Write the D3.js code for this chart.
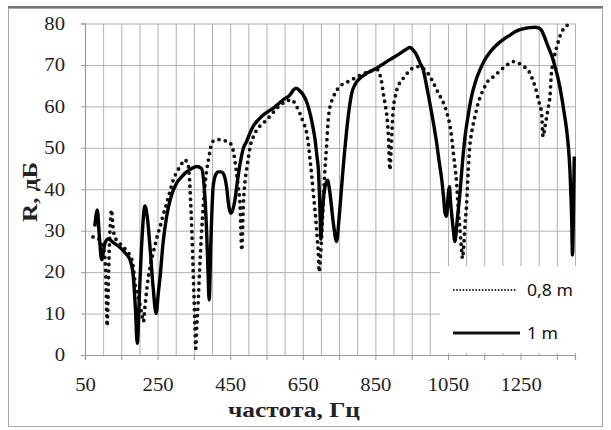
<!DOCTYPE html>
<html>
<head>
<meta charset="utf-8">
<script src="https://cdn.jsdelivr.net/npm/d3@7"></script>
<style>
  body { margin: 0; background: #fff; }
  svg { display: block; }
</style>
</head>
<body>
<div id="chart"></div>
<script>
// 1 m series (solid)
const freq1m = [77, 84, 90, 96, 105, 114, 130, 146, 162, 174, 183, 189, 194, 200, 207, 215, 222, 230, 238, 246,
  252, 257, 265, 275, 288, 302, 316, 330, 344, 358, 371, 378, 385, 389, 392, 397, 403, 410, 417, 424,
  431, 440, 446, 451, 457, 463, 470, 477, 486, 495, 504, 514, 528, 541, 555, 569, 583, 596, 615, 625,
  631, 641, 651, 661, 670, 678, 684, 689, 693, 697, 700, 703, 710, 718, 725, 734, 743, 750, 757, 764,
  771, 778, 785, 794, 803, 815, 826, 840, 853, 867, 881, 900, 918, 932, 945, 955, 964, 973, 982, 991,
  1000, 1010, 1019, 1026, 1033, 1038, 1042, 1046, 1051, 1054, 1057, 1060, 1065, 1069, 1076, 1083, 1090, 1097, 1106, 1115,
  1126, 1138, 1150, 1165, 1179, 1193, 1207, 1221, 1235, 1248, 1262, 1276, 1290, 1300, 1308, 1317, 1326, 1336, 1345, 1354,
  1363, 1370, 1377, 1382, 1386, 1389, 1391, 1393, 1396, 1398];
const r1m = [31, 35, 28, 23, 27, 28, 27, 26, 24.5, 23, 19, 11, 2.8, 15, 28, 36, 33, 25, 16, 10,
  15, 19, 27, 33.5, 38.5, 41.4, 43, 44.2, 45, 45.5, 45, 41, 30, 20, 13.3, 28, 40.6, 43.5, 44.2, 44.2,
  43.8, 40.6, 36, 34.2, 35, 37.4, 42, 46, 49.8, 51.5, 53.5, 55.3, 56.8, 57.9, 58.8, 59.6, 60.6, 61.6, 62.8, 64,
  64.4, 63.8, 62.8, 61, 58.3, 55, 51.9, 48, 44.7, 36, 28, 33, 40, 42.2, 39, 32, 27.4, 33, 40.6, 48,
  54.3, 59.5, 63.2, 65.3, 66.4, 67.3, 68, 68.6, 69.2, 70, 70.8, 71.8, 72.8, 73.6, 74.2, 73.5, 72.3, 70.5, 68.8, 65,
  60.8, 56, 51.1, 46.5, 42.2, 38, 34.2, 33.5, 39, 40.6, 37, 34.2, 30, 27.4, 33, 39, 46.5, 52.7, 58, 62.4,
  66, 68.8, 71, 73, 74.4, 75.5, 76.4, 77.2, 78, 78.5, 78.8, 79, 79.1, 78.9, 78.3, 76.5, 74.4, 72.2, 69.6, 66.5,
  62.4, 58.5, 54.3, 50, 44.7, 38, 32.6, 24.1, 36, 47.9];

// 0,8 m series (dotted)
const freq08m = [72, 82, 92, 100, 106, 109, 111, 114, 117, 120, 123, 127, 132, 140, 155, 168, 179, 184, 188, 195,
  201, 207, 211, 215, 220, 229, 236, 243, 250, 257, 266, 275, 284, 293, 302, 312, 319, 325, 331, 335,
  338, 341, 344, 347, 350, 353, 355, 358, 362, 366, 371, 376, 381, 386, 390, 395, 399, 406, 413, 425,
  436, 445, 454, 460, 466, 472, 477, 482, 486, 491, 495, 500, 505, 514, 523, 536, 550, 564, 578, 592,
  606, 619, 631, 642, 652, 661, 666, 670, 675, 679, 683, 686, 690, 693, 695, 699, 702, 706, 711, 716,
  720, 725, 732, 739, 746, 752, 780, 810, 840, 855, 863, 868, 872, 877, 881, 886, 890, 893, 895, 899,
  904, 909, 918, 927, 936, 945, 956, 968, 980, 991, 1005, 1019, 1031, 1042, 1050, 1056, 1061, 1065, 1070, 1074,
  1078, 1083, 1087, 1090, 1094, 1097, 1101, 1106, 1110, 1115, 1120, 1127, 1133, 1140, 1147, 1154, 1161, 1170, 1179, 1193,
  1207, 1218, 1230, 1241, 1253, 1265, 1276, 1283, 1290, 1299, 1308, 1312, 1317, 1322, 1327, 1331, 1335, 1340, 1345, 1352,
  1358, 1365, 1372, 1383, 1395];
const r08m = [28.5, 28.3, 27.5, 26, 22, 14, 7, 16, 26, 32, 35, 31, 28.5, 27.5, 26.1, 24.8, 23, 20.5, 17.3, 14.5,
  12.5, 9.5, 8, 11.5, 15.7, 21.3, 24, 26.5, 29, 31, 34, 36.6, 39.5, 42.2, 44, 45.5, 46.5, 47.1, 46.5, 45.5,
  42.5, 37, 31, 23, 15, 7, 1.6, 7, 13.3, 21, 29.4, 36, 41.4, 45, 47.1, 49.5, 51.1, 51.8, 52, 52,
  51.7, 51.3, 50.7, 48.5, 45, 40.6, 36.5, 25.3, 35.8, 42, 44.7, 47.5, 50.3, 52.7, 54.3, 55.6, 56.7, 58.1, 59.5, 60.6,
  61.3, 61.6, 60.3, 58.3, 56, 53.5, 50.5, 47.1, 43, 39, 35.5, 32.6, 28, 24.5, 20.1, 24, 28.6, 36, 44.7, 51,
  56.7, 59.9, 61.8, 63.2, 64.2, 64.8, 66.2, 67.6, 68.6, 68.9, 67.5, 65.5, 63, 60.5, 58.3, 52.7, 44.7, 49, 52.7, 59.1,
  62, 64, 65.8, 66.8, 67.8, 68.8, 69.3, 69.6, 69.2, 68.4, 66.5, 64, 62, 59.9, 57.5, 55.1, 52, 48.7, 45, 41.4,
  35.8, 30.2, 26, 23.3, 27, 31.5, 35.8, 44.7, 50.3, 53.5, 55.9, 58.5, 60.8, 62.5, 64, 65.2, 66.2, 66.8, 67.4, 68.6,
  69.6, 70.3, 70.8, 70.6, 70, 69.2, 68, 66.5, 64.8, 61.6, 58.3, 52.7, 55, 57.5, 60, 62.4, 68, 70.5, 72.8, 75,
  76.8, 78.2, 79.2, 79.7, 79.9];

const xTicks = d3.range(50, 1400, 100);
const xLabels = [50, 250, 450, 650, 850, 1050, 1250];
const yTicks = d3.range(0, 81, 10);
const legendLabels = ["0,8 m", "1 m"];

const width = 611, height = 430;
const plot = { left: 85, right: 575, top: 23.5, bottom: 355 };

const svg = d3.select("#chart").append("svg")
  .attr("width", width)
  .attr("height", height);

// stretch text horizontally around its anchor
function stretch(sel, k) {
  sel.each(function () {
    const t = d3.select(this);
    const x = +t.attr("x") || 0;
    t.attr("transform", `translate(${x},0) scale(${k},1) translate(${-x},0)`);
  });
}

// frame
svg.append("rect")
  .attr("x", 8.5).attr("y", 8.5)
  .attr("width", 594).attr("height", 418)
  .attr("fill", "#fff")
  .attr("stroke", "#a8a8a8");
svg.append("line")
  .attr("x1", 8).attr("x2", 603)
  .attr("y1", 7).attr("y2", 7)
  .attr("stroke", "#777")
  .attr("stroke-width", 2);

const x = d3.scaleLinear().domain([50, 1400]).range([plot.left, plot.right]);
const y = d3.scaleLinear().domain([0, 80]).range([plot.bottom, plot.top]);

const gridColor = "#b0b0b0";

// grid
const gridX = svg.append("g")
  .attr("transform", `translate(0, ${plot.bottom})`)
  .call(d3.axisBottom(x).tickValues(d3.range(50, 1401, 50)).tickFormat("").tickSize(-(plot.bottom - plot.top)));
const gridY = svg.append("g")
  .attr("transform", `translate(${plot.left}, 0)`)
  .call(d3.axisLeft(y).tickValues(yTicks).tickFormat("").tickSize(-(plot.right - plot.left)));
[gridX, gridY].forEach(g => {
  g.select(".domain").remove();
  g.selectAll("line").attr("stroke", gridColor).attr("stroke-width", 1);
});

// legend box covers the grid in the lower right corner
svg.append("rect")
  .attr("x", 440).attr("y", 266)
  .attr("width", 140).attr("height", 87)
  .attr("fill", "#fff");

// axes
const axisX = svg.append("g")
  .attr("transform", `translate(0, ${plot.bottom})`)
  .call(d3.axisBottom(x).tickValues(xTicks).tickSize(5).tickPadding(18)
    .tickFormat(d => xLabels.includes(d) ? d : ""));
const axisY = svg.append("g")
  .attr("transform", `translate(${plot.left}, 0)`)
  .call(d3.axisLeft(y).tickValues(yTicks).tickSize(4).tickPadding(16));

[axisX, axisY].forEach(g => {
  g.select(".domain").attr("stroke", "#999").attr("stroke-width", 1.2);
  g.selectAll(".tick line").attr("stroke", "#999");
  g.selectAll("text")
    .attr("fill", "#222")
    .style("font-family", "'Liberation Serif', 'Times New Roman', serif")
    .style("font-size", "18px");
});
stretch(axisX.selectAll("text"), 1.15);
stretch(axisY.selectAll("text"), 1.15);

// lines
const line = d3.line()
  .x(d => x(d[0]))
  .y(d => y(d[1]))
  .curve(d3.curveMonotoneX);

svg.append("path")
  .datum(freq08m.map((f, i) => [f, r08m[i]]))
  .attr("fill", "none")
  .attr("stroke", "#111")
  .attr("stroke-width", 3.8)
  .attr("stroke-linecap", "round")
  .attr("stroke-dasharray", "0 6.5")
  .attr("d", line);

svg.append("path")
  .datum(freq1m.map((f, i) => [f, r1m[i]]))
  .attr("fill", "none")
  .attr("stroke", "#000")
  .attr("stroke-width", 3.4)
  .attr("stroke-linejoin", "round")
  .attr("d", line);

// legend
const legend = svg.append("g");
const legendY = [290, 333];
legend.append("line")
  .attr("x1", 453).attr("x2", 517)
  .attr("y1", legendY[0]).attr("y2", legendY[0])
  .attr("stroke", "#333")
  .attr("stroke-width", 1.8)
  .attr("stroke-dasharray", "1.6 1.6");
legend.append("line")
  .attr("x1", 453).attr("x2", 520)
  .attr("y1", legendY[1]).attr("y2", legendY[1])
  .attr("stroke", "#111")
  .attr("stroke-width", 3);
legend.selectAll("text")
  .data(legendLabels)
  .enter().append("text")
  .attr("x", 527)
  .attr("y", (d, i) => legendY[i])
  .attr("dy", "0.36em")
  .attr("fill", "#111")
  .style("font-family", "'Noto Sans', 'Open Sans', sans-serif")
  .style("font-size", "16px")
  .text(d => d);
stretch(legend.selectAll("text"), 1.1);

// axis titles
svg.append("text")
  .attr("x", 294).attr("y", 417)
  .attr("text-anchor", "middle")
  .attr("fill", "#222")
  .style("font-family", "'Liberation Serif', 'Times New Roman', serif")
  .style("font-size", "22px")
  .style("font-weight", "bold")
  .attr("textLength", 132)
  .attr("lengthAdjust", "spacingAndGlyphs")
  .text("частота, Гц");

svg.append("text")
  .attr("transform", "translate(37, 192) rotate(-90)")
  .attr("text-anchor", "middle")
  .attr("fill", "#222")
  .style("font-family", "'Liberation Serif', 'Times New Roman', serif")
  .style("font-size", "22px")
  .style("font-weight", "bold")
  .attr("textLength", 60)
  .attr("lengthAdjust", "spacingAndGlyphs")
  .text("R, дБ");
</script>
</body>
</html>
